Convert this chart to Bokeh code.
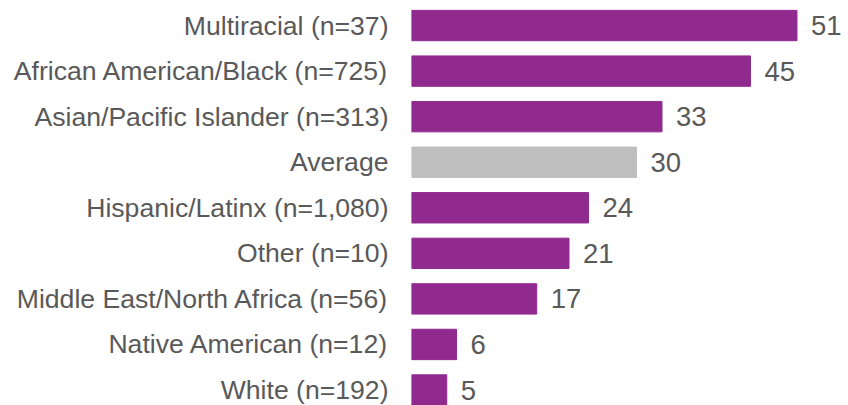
from bokeh.plotting import figure
from bokeh.models import ColumnDataSource, Range1d, FixedTicker
from bokeh.core.properties import value
from bokeh.embed import file_html
from bokeh.resources import INLINE

categories = [
    "Multiracial (n=37)",
    "African American/Black (n=725)",
    "Asian/Pacific Islander (n=313)",
    "Average",
    "Hispanic/Latinx (n=1,080)",
    "Other (n=10)",
    "Middle East/North Africa (n=56)",
    "Native American (n=12)",
    "White (n=192)",
]
# estimated bar lengths (percent)
values = [51.4, 45.2, 33.4, 30.0, 23.6, 21.0, 16.7, 6.0, 4.7]
# printed value labels
labels = ["51", "45", "33", "30", "24", "21", "17", "6", "5"]

PURPLE = "#912A8F"
GRAY = "#BFBFBF"
TEXT = "#595959"

ypos = list(range(len(categories)))
colors = [GRAY if c == "Average" else PURPLE for c in categories]
src = ColumnDataSource(dict(y=ypos, v=values, c=colors, lbl=labels))

p = figure(width=848, height=405, output_backend="svg", toolbar_location=None,
           x_range=Range1d(0, 58.27), y_range=Range1d(8.34, -0.55),
           min_border_left=411, min_border_right=0, min_border_top=0,
           min_border_bottom=0)
p.outline_line_color = None
p.xgrid.visible = False
p.ygrid.visible = False
p.xaxis.visible = False
p.background_fill_color = "white"
p.border_fill_color = "white"

p.hbar(y="y", right="v", left=0, height=0.667, color="c", source=src)
p.text(x="v", y="y", text="lbl", source=src, x_offset=14,
       text_align="left", text_baseline="middle",
       text_font=value("Liberation Sans"), text_font_size="27.5px",
       text_color=TEXT)

ya = p.yaxis[0]
ya.ticker = FixedTicker(ticks=ypos)
ya.major_label_overrides = {i: c for i, c in enumerate(categories)}
ya.axis_line_color = None
ya.major_tick_line_color = None
ya.minor_tick_line_color = None
ya.major_tick_out = 0
ya.major_tick_in = 0
ya.major_label_standoff = 23
ya.major_label_text_font = "Liberation Sans"
ya.major_label_text_font_size = "26.6px"
ya.major_label_text_color = TEXT

open("out.html", "w").write(file_html(p, INLINE))
